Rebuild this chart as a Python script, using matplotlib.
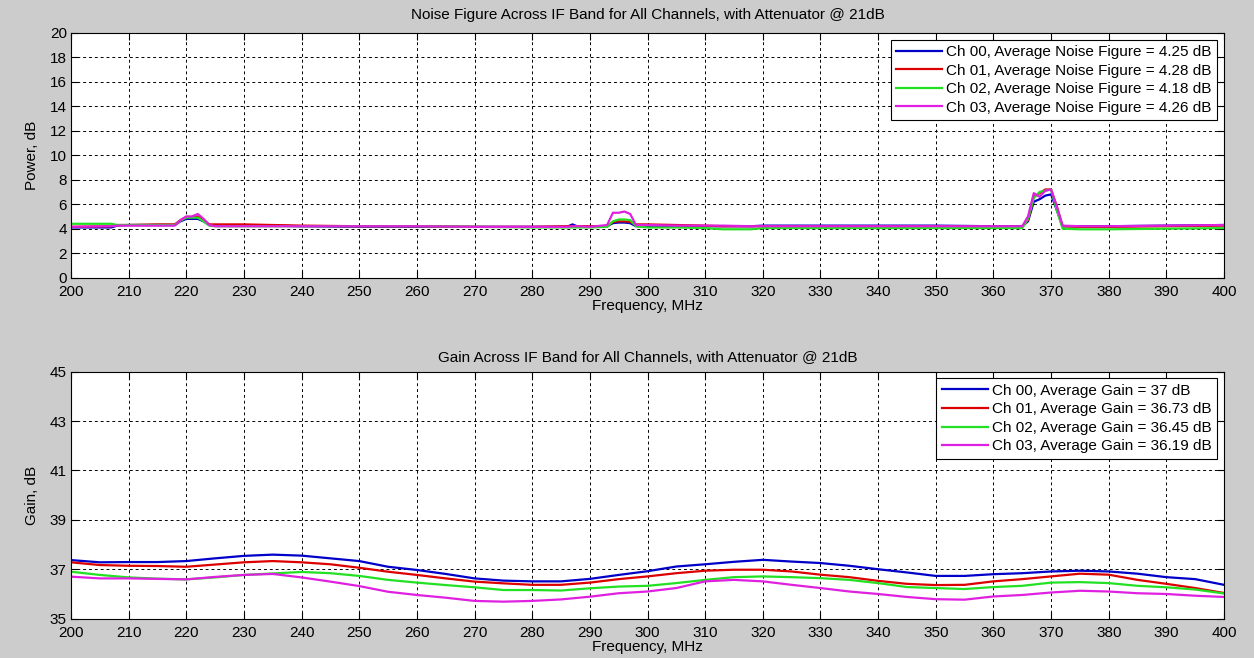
import matplotlib
matplotlib.use("Agg")
import matplotlib.pyplot as plt

plt.rcParams["font.family"] = ["Liberation Sans", "DejaVu Sans"]

# noise figure sweep, dB
nf_freq = [200, 207, 208, 210, 215, 218, 219, 220, 221, 222,
           223, 224, 225, 230, 235, 240, 250, 260, 270, 280,
           286, 287, 288, 290, 293, 294, 295, 296, 297, 298,
           300, 305, 310, 313, 318, 320, 330, 340, 350, 360,
           365, 366, 367, 368, 369, 370, 371, 372, 375, 380,
           390, 400]
nf_ch00 = [4.10, 4.10, 4.25, 4.30, 4.30, 4.30, 4.60, 4.80, 4.80, 4.80,
           4.60, 4.30, 4.25, 4.25, 4.25, 4.20, 4.15, 4.15, 4.15, 4.15,
           4.15, 4.35, 4.15, 4.15, 4.20, 4.45, 4.50, 4.50, 4.45, 4.20,
           4.20, 4.20, 4.20, 4.20, 4.20, 4.25, 4.25, 4.25, 4.25, 4.20,
           4.20, 4.60, 6.20, 6.40, 6.70, 6.80, 5.50, 4.20, 4.20, 4.20,
           4.25, 4.30]
nf_ch01 = [4.15, 4.20, 4.30, 4.30, 4.35, 4.35, 4.70, 4.95, 4.95, 5.00,
           4.70, 4.35, 4.35, 4.35, 4.30, 4.25, 4.20, 4.20, 4.15, 4.15,
           4.20, 4.20, 4.20, 4.20, 4.20, 4.55, 4.60, 4.60, 4.55, 4.35,
           4.35, 4.30, 4.25, 4.20, 4.20, 4.20, 4.20, 4.20, 4.20, 4.15,
           4.15, 4.70, 6.60, 6.90, 7.20, 7.20, 5.80, 4.20, 4.15, 4.15,
           4.20, 4.25]
nf_ch02 = [4.40, 4.40, 4.30, 4.30, 4.30, 4.30, 4.65, 4.90, 4.90, 4.90,
           4.60, 4.25, 4.20, 4.20, 4.20, 4.20, 4.20, 4.20, 4.15, 4.10,
           4.10, 4.10, 4.10, 4.10, 4.15, 4.60, 4.75, 4.75, 4.70, 4.20,
           4.10, 4.10, 4.05, 3.95, 3.95, 4.05, 4.05, 4.05, 4.05, 4.05,
           4.05, 4.80, 6.50, 7.00, 7.10, 7.20, 5.50, 4.00, 3.95, 3.95,
           4.00, 4.05]
nf_ch03 = [4.15, 4.20, 4.25, 4.25, 4.25, 4.25, 4.70, 5.00, 5.00, 5.20,
           4.80, 4.30, 4.20, 4.20, 4.20, 4.20, 4.20, 4.20, 4.15, 4.15,
           4.15, 4.20, 4.20, 4.15, 4.30, 5.30, 5.30, 5.40, 5.20, 4.30,
           4.30, 4.25, 4.25, 4.25, 4.20, 4.20, 4.20, 4.20, 4.20, 4.20,
           4.20, 5.00, 6.90, 6.60, 7.10, 7.20, 5.80, 4.25, 4.20, 4.20,
           4.25, 4.30]
nf_avg = [4.25, 4.28, 4.18, 4.26]

# gain sweep, dB
gain_freq = list(range(200, 401, 5))
gain_ch00 = [37.38, 37.29, 37.30, 37.30, 37.34, 37.45, 37.55, 37.60, 37.56, 37.45,
             37.34, 37.11, 36.98, 36.82, 36.64, 36.55, 36.52, 36.52, 36.62, 36.78,
             36.93, 37.12, 37.21, 37.31, 37.39, 37.32, 37.26, 37.15, 37.01, 36.88,
             36.74, 36.74, 36.81, 36.85, 36.92, 36.95, 36.92, 36.83, 36.69, 36.61,
             36.38]
gain_ch01 = [37.29, 37.18, 37.15, 37.14, 37.11, 37.20, 37.29, 37.34, 37.29, 37.21,
             37.07, 36.91, 36.78, 36.64, 36.51, 36.44, 36.38, 36.38, 36.47, 36.61,
             36.72, 36.85, 36.95, 36.99, 36.99, 36.92, 36.79, 36.69, 36.54, 36.42,
             36.37, 36.38, 36.52, 36.61, 36.72, 36.83, 36.79, 36.58, 36.42, 36.25,
             36.05]
gain_ch02 = [36.91, 36.78, 36.68, 36.63, 36.60, 36.68, 36.78, 36.84, 36.90, 36.85,
             36.74, 36.58, 36.47, 36.37, 36.28, 36.17, 36.17, 36.15, 36.24, 36.31,
             36.34, 36.45, 36.58, 36.69, 36.72, 36.69, 36.65, 36.58, 36.45, 36.29,
             36.25, 36.21, 36.29, 36.34, 36.47, 36.49, 36.45, 36.34, 36.28, 36.19,
             36.03]
gain_ch03 = [36.71, 36.64, 36.64, 36.62, 36.60, 36.70, 36.78, 36.82, 36.68, 36.51,
             36.33, 36.10, 35.97, 35.86, 35.73, 35.70, 35.73, 35.79, 35.90, 36.04,
             36.11, 36.25, 36.52, 36.58, 36.52, 36.38, 36.25, 36.11, 36.01, 35.89,
             35.80, 35.78, 35.91, 35.97, 36.07, 36.14, 36.11, 36.04, 36.01, 35.94,
             35.89]
gain_avg = ["37", "36.73", "36.45", "36.19"]

channels = ["Ch 00", "Ch 01", "Ch 02", "Ch 03"]
colors = ["#0000c8", "#dd0000", "#22e022", "#e020e0"]

FS = 11


def style_axes(ax, ylim, yticks):
    ax.set_xlim(200, 400)
    ax.set_ylim(*ylim)
    ax.set_xticks(range(200, 401, 10))
    ax.set_yticks(yticks)
    ax.tick_params(direction="in", length=5, width=0.8, labelsize=FS,
                   top=True, right=True)
    ax.tick_params(axis="x", pad=5)
    ax.tick_params(axis="y", pad=3)
    ax.grid(True, color="black", linestyle=(0, (3, 3)), linewidth=0.7)
    ax.set_facecolor("white")
    for s in ax.spines.values():
        s.set_linewidth(0.8)
    ax.set_xlabel("Frequency, MHz", fontsize=FS, labelpad=0)


fig = plt.figure(figsize=(12.54, 6.58), dpi=100, facecolor="#cccccc")
ax1 = fig.add_axes([0.0566, 0.578, 0.9195, 0.3723])
ax2 = fig.add_axes([0.0566, 0.0593, 0.9195, 0.3761])

nf_series = [nf_ch00, nf_ch01, nf_ch02, nf_ch03]
for ch, vals, c, avg in zip(channels, nf_series, colors, nf_avg):
    ax1.plot(nf_freq, vals, color=c, linewidth=1.6,
             label=f"{ch}, Average Noise Figure = {avg:.2f} dB")
style_axes(ax1, (0, 20), range(0, 21, 2))
ax1.set_ylabel("Power, dB", fontsize=FS, labelpad=8)
ax1.set_title("Noise Figure Across IF Band for All Channels, with Attenuator @ 21dB",
              fontsize=FS, pad=10)

gain_series = [gain_ch00, gain_ch01, gain_ch02, gain_ch03]
for ch, vals, c, avg in zip(channels, gain_series, colors, gain_avg):
    ax2.plot(gain_freq, vals, color=c, linewidth=1.6,
             label=f"{ch}, Average Gain = {avg} dB")
style_axes(ax2, (35, 45), range(35, 46, 2))
ax2.set_ylabel("Gain, dB", fontsize=FS, labelpad=8)
ax2.set_title("Gain Across IF Band for All Channels, with Attenuator @ 21dB",
              fontsize=FS, pad=7)

for ax in (ax1, ax2):
    leg = ax.legend(loc="upper right", fontsize=FS, fancybox=False,
                    framealpha=1, edgecolor="black", handlelength=3.0,
                    handletextpad=0.3, labelspacing=0.3, borderpad=0.35,
                    borderaxespad=0.45)
    leg.get_frame().set_linewidth(0.8)

fig.savefig("out.png", dpi=100, facecolor=fig.get_facecolor())
